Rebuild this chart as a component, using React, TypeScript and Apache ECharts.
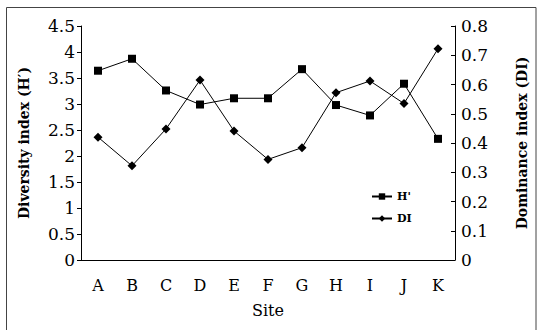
import React, { useEffect, useRef } from "react";
import * as echarts from "echarts";

const sites = ["A", "B", "C", "D", "E", "F", "G", "H", "I", "J", "K"];
const diversityH = [3.64, 3.87, 3.26, 2.99, 3.11, 3.11, 3.67, 2.98, 2.78, 3.39, 2.33];
const dominanceDI = [0.42, 0.322, 0.448, 0.615, 0.441, 0.344, 0.384, 0.572, 0.612, 0.535, 0.722];

const FONT = "DejaVu Serif";

export default function App() {
  const ref = useRef<HTMLDivElement>(null);
  useEffect(() => {
    if (!ref.current) return;
    const chart = echarts.init(ref.current, null, { renderer: "svg" });
    chart.setOption({
      animation: false,
      backgroundColor: "#fff",
      grid: { left: 81, right: 81, top: 26, bottom: 70 },
      legend: {
        orient: "vertical",
        left: 366,
        top: 186,
        itemWidth: 20,
        itemHeight: 8,
        itemGap: 11,
        textStyle: { fontFamily: FONT, fontWeight: "bold", fontSize: 11, color: "#000" },
        data: ["H'", "DI"],
      },
      xAxis: {
        type: "category",
        data: sites,
        boundaryGap: true,
        name: "Site",
        nameLocation: "middle",
        nameGap: 42,
        nameTextStyle: { fontFamily: FONT, fontSize: 16, color: "#000" },
        axisLine: { lineStyle: { color: "#000", width: 1 } },
        axisTick: { inside: true, length: 4, lineStyle: { color: "#000" } },
        axisLabel: { fontFamily: FONT, fontSize: 16, color: "#000", margin: 17 },
        splitLine: { show: false },
      },
      yAxis: [
        {
          type: "value",
          min: 0,
          max: 4.5,
          interval: 0.5,
          name: "Diversity index (H\u2032)",
          nameLocation: "middle",
          nameGap: 50,
          nameRotate: 90,
          nameTextStyle: { fontFamily: FONT, fontWeight: "bold", fontSize: 14, color: "#000" },
          axisLine: { show: true, lineStyle: { color: "#000", width: 1 } },
          axisTick: { show: true, length: 4, lineStyle: { color: "#000" } },
          axisLabel: { fontFamily: FONT, fontSize: 17, color: "#000", margin: 6 },
          splitLine: { show: false },
        },
        {
          type: "value",
          min: 0,
          max: 0.8,
          interval: 0.1,
          position: "right",
          name: "Dominance index (DI)",
          nameLocation: "middle",
          nameGap: 60,
          nameRotate: 90,
          nameTextStyle: { fontFamily: FONT, fontWeight: "bold", fontSize: 14, color: "#000" },
          axisLine: { show: true, lineStyle: { color: "#000", width: 1 } },
          axisTick: { show: true, inside: true, length: 4, lineStyle: { color: "#000" } },
          axisLabel: { fontFamily: FONT, fontSize: 17, color: "#000", margin: 6 },
          splitLine: { show: false },
        },
      ],
      series: [
        {
          name: "H'",
          type: "line",
          yAxisIndex: 0,
          data: diversityH,
          symbol: "rect",
          symbolSize: 8,
          lineStyle: { color: "#000", width: 1 },
          itemStyle: { color: "#000" },
        },
        {
          name: "DI",
          type: "line",
          yAxisIndex: 1,
          data: dominanceDI,
          symbol: "diamond",
          symbolSize: 9,
          lineStyle: { color: "#000", width: 1 },
          itemStyle: { color: "#000" },
        },
      ],
      graphic: [
        {
          type: "rect",
          shape: { x: 6.5, y: 7.5, width: 529.5, height: 330 },
          style: { fill: "none", stroke: "#444", lineWidth: 1 },
          silent: true,
        },
      ],
    });
    return () => chart.dispose();
  }, []);
  return <div ref={ref} style={{ width: 537, height: 330, position: "absolute", left: 0, top: 0 }} />;
}
